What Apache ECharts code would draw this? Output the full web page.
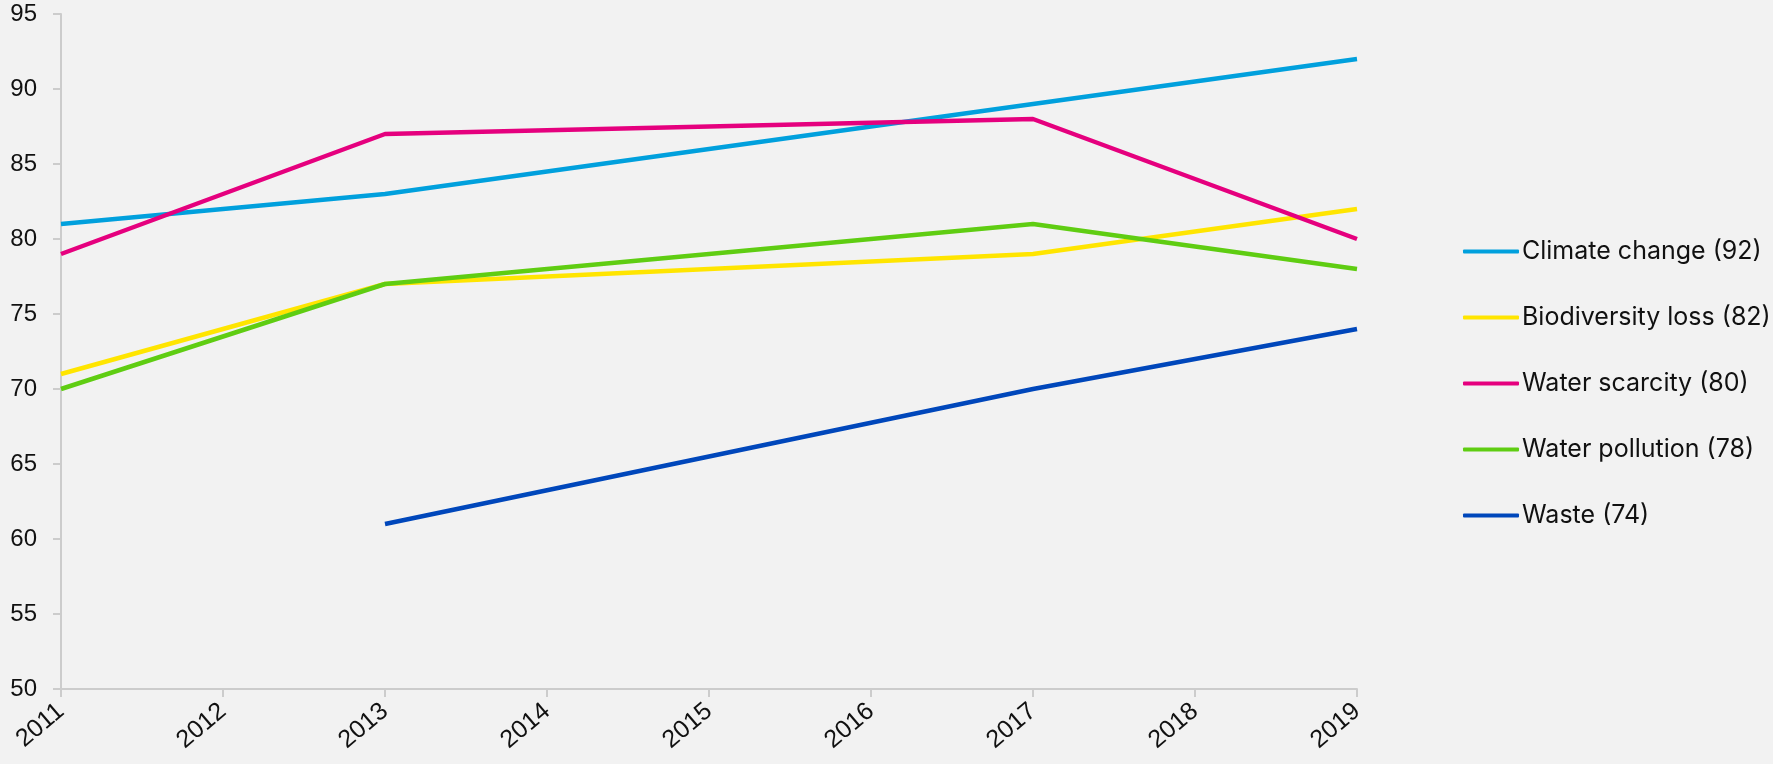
<!DOCTYPE html>
<html>
<head>
<meta charset="utf-8">
<script src="https://cdn.jsdelivr.net/npm/echarts@6/dist/echarts.min.js"></script>
<style>
  html, body { margin: 0; padding: 0; background: #f2f2f2; }
  #chart { width: 1773px; height: 764px; }
</style>
</head>
<body>
<div id="chart"></div>
<script>
var years = ['2011', '2012', '2013', '2014', '2015', '2016', '2017', '2018', '2019'];
// only 2011, 2013, 2017 and 2019 were surveyed
var climateChange = [81, null, 83, null, null, null, 89, null, 92];
var biodiversityLoss = [71, null, 77, null, null, null, 79, null, 82];
var waterScarcity = [79, null, 87, null, null, null, 88, null, 80];
var waterPollution = [70, null, 77, null, null, null, 81, null, 78];
var waste = [null, null, 61, null, null, null, 70, null, 74];

var seriesNames = ['Climate change (92)', 'Biodiversity loss (82)', 'Water scarcity (80)', 'Water pollution (78)', 'Waste (74)'];
var seriesColors = ['#00a0dd', '#ffe500', '#e5007e', '#5fcd12', '#0047bb'];
var seriesData = [climateChange, biodiversityLoss, waterScarcity, waterPollution, waste];

function makeLine(i) {
    return {
        name: seriesNames[i],
        type: 'line',
        data: seriesData[i],
        connectNulls: true,
        symbol: 'none',
        lineStyle: { width: 4.5, color: seriesColors[i] },
        itemStyle: { color: seriesColors[i] }
    }
}

var chart = echarts.init(document.getElementById('chart'));
chart.setOption({
    backgroundColor: '#f2f2f2',
    animation: false,
    grid: { left: 61, right: 416, top: 14, bottom: 75, containLabel: false },
    legend: {
        orient: 'vertical',
        left: 1458,
        top: 234,
        icon: 'roundRect',
        itemWidth: 56,
        itemHeight: 4,
        itemGap: 41,
        textStyle: { fontFamily: 'Inter, "Noto Sans", sans-serif', fontSize: 25, color: '#111', padding: [0, 0, 0, -2] },
        data: seriesNames
    },
    xAxis: {
        type: 'category',
        data: years,
        boundaryGap: false,
        axisLine: { lineStyle: { color: '#cccccc', width: 2 } },
        axisTick: { alignWithLabel: true, length: 8, lineStyle: { color: '#cccccc', width: 2 } },
        axisLabel: {
            rotate: 40,
            margin: 19,
            fontFamily: '"Liberation Sans", Arial, sans-serif',
            fontSize: 25,
            color: '#111'
        }
    },
    yAxis: {
        type: 'value',
        min: 50,
        max: 95,
        interval: 5,
        splitLine: { show: false },
        axisLine: { show: true, lineStyle: { color: '#cccccc', width: 2 } },
        axisTick: { show: true, length: 8, lineStyle: { color: '#cccccc', width: 2 } },
        axisLabel: {
            margin: 24,
            fontFamily: '"Liberation Sans", Arial, sans-serif',
            fontSize: 24,
            color: '#111'
        }
    },
    series: [0, 1, 2, 3, 4].map(makeLine)
});
</script>
</body>
</html>
